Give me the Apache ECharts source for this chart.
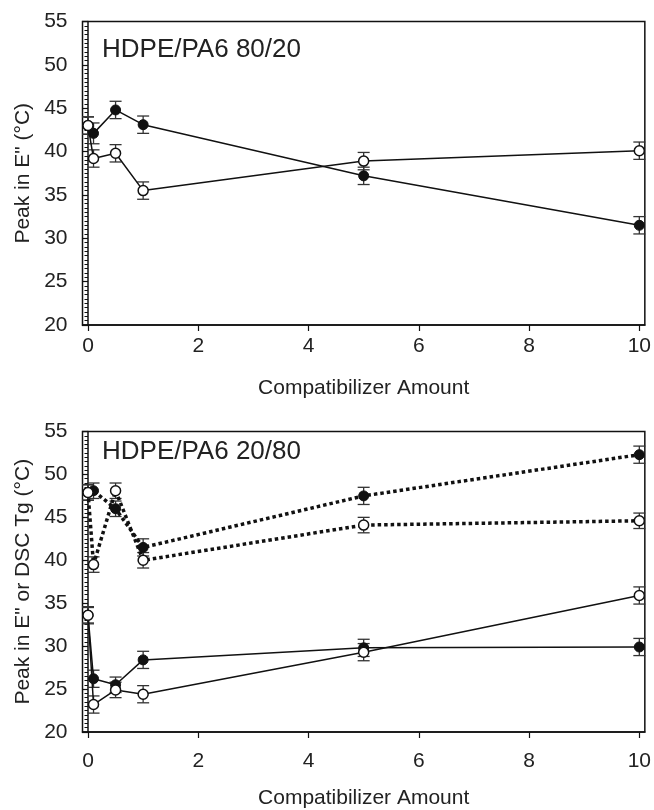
<!DOCTYPE html>
<html>
<head>
<meta charset="utf-8">
<script src="https://cdn.jsdelivr.net/npm/echarts@6/dist/echarts.min.js"></script>
<style>
  html, body { margin: 0; padding: 0; background: #fff; }
  #chart { width: 654px; height: 810px; }
</style>
</head>
<body>
<div id="chart"></div>
<script>
// compatibilizer amount (x)
const amount = [0, 0.1, 0.5, 1, 5, 10];
const xTicks = [0, 2, 4, 6, 8, 10];

// HDPE/PA6 80/20 : peak in E"
const top_filled = [43.0, 42.1, 44.8, 43.1, 37.2, 31.5];
const top_open = [43.0, 39.2, 39.8, 35.5, 38.9, 40.1];
const top_filled_err = [1.0, 1.2, 1.0, 1.0, 1.0, 1.0];
const top_open_err = [1.0, 1.0, 1.0, 1.0, 1.0, 1.0];

// HDPE/PA6 20/80 : peak in E" (solid) and DSC Tg (dotted)
const bot_filled = [33.6, 26.2, 25.5, 28.4, 29.8, 29.9];
const bot_open = [33.6, 23.2, 24.9, 24.4, 29.3, 35.9];
const bot_filled_err = [1.0, 1.0, 0.9, 1.0, 1.0, 1.0];
const bot_open_err = [0.9, 1.0, 0.9, 1.0, 1.0, 1.0];
const dsc_filled = [47.9, 48.1, 46.0, 41.5, 47.5, 52.3];
const dsc_open = [47.9, 39.5, 48.1, 40.0, 44.1, 44.6];
const dsc_filled_err = [0.9, 0.9, 0.9, 1.0, 1.0, 1.0];
const dsc_open_err = [0.9, 0.9, 0.9, 0.9, 0.9, 0.9];

const txt = "#222";
const font = "Liberation Sans";

function pairs(ys) {
  return amount.map((x, i) => [x, ys[i]]);
}

function lineSeries(idx, ys, filled, dotted) {
  return {
    type: "line",
    xAxisIndex: idx,
    yAxisIndex: idx,
    data: pairs(ys),
    symbol: "circle",
    symbolSize: 10,
    z: filled ? 3 : 4,
    lineStyle: dotted
      ? { color: "#111", width: 3.5, type: [3.5, 3] }
      : { color: "#111", width: 1.5 },
    itemStyle: filled
      ? { color: "#111", borderColor: "#111", borderWidth: 1 }
      : { color: "#fff", borderColor: "#111", borderWidth: 1.5 },
    animation: false,
  };
}

// error bars with caps, placed through the axes
function errSeries(idx, ys, errs) {
  return {
    type: "custom",
    xAxisIndex: idx,
    yAxisIndex: idx,
    z: 2,
    data: amount.map((x, i) => [x, ys[i] - errs[i], ys[i] + errs[i]]),
    encode: { x: 0, y: [1, 2] },
    renderItem: function (params, api) {
      const lo = api.coord([api.value(0), api.value(1)]);
      const hi = api.coord([api.value(0), api.value(2)]);
      const w = 6;
      const st = { stroke: "#333", lineWidth: 1.3 };
      return {
        type: "group",
        children: [
          { type: "line", shape: { x1: lo[0], y1: lo[1], x2: hi[0], y2: hi[1] }, style: st },
          { type: "line", shape: { x1: lo[0] - w, y1: lo[1], x2: lo[0] + w, y2: lo[1] }, style: st },
          { type: "line", shape: { x1: hi[0] - w, y1: hi[1], x2: hi[0] + w, y2: hi[1] }, style: st },
        ],
      };
    },
    animation: false,
  };
}

function xAxis(idx, labelMargin, nameGap) {
  return {
    type: "value",
    gridIndex: idx,
    min: -0.1,
    max: 10.1,
    name: "Compatibilizer Amount",
    nameLocation: "middle",
    nameGap: nameGap,
    nameTextStyle: { color: txt, fontSize: 21, fontFamily: font },
    axisLine: { show: true, lineStyle: { color: "#111", width: 1.5 } },
    axisTick: { show: true, inside: false, length: 6, customValues: xTicks, lineStyle: { color: "#111", width: 1.2 } },
    axisLabel: { customValues: xTicks, margin: labelMargin, color: txt, fontSize: 21, fontFamily: font },
    splitLine: { show: false },
  };
}

function yAxis(idx, name) {
  return {
    type: "value",
    gridIndex: idx,
    min: 20,
    max: 55,
    interval: 5,
    name: name,
    nameLocation: "middle",
    nameGap: 46,
    nameTextStyle: { color: txt, fontSize: 21, fontFamily: font },
    axisLine: { show: true, lineStyle: { color: "#111", width: 1.5 } },
    axisTick: { show: true, inside: false, length: 6, lineStyle: { color: "#111", width: 1.2 } },
    minorTick: { show: true, splitNumber: 10, length: 3.5, lineStyle: { color: "#111", width: 1 } },
    axisLabel: { margin: 15, color: txt, fontSize: 21, fontFamily: font },
    splitLine: { show: false },
  };
}

const chart = echarts.init(document.getElementById("chart"));
chart.setOption({
  backgroundColor: "#fff",
  animation: false,
  grid: [
    { left: 82.5, top: 21.5, width: 565.5, height: 303.5, show: true, borderColor: "#111", borderWidth: 1.5, backgroundColor: "transparent" },
    { left: 82.5, top: 431.5, width: 565.5, height: 303.5, show: true, borderColor: "#111", borderWidth: 1.5, backgroundColor: "transparent" },
  ],
  xAxis: [xAxis(0, 11, 53), xAxis(1, 19, 56)],
  yAxis: [yAxis(0, 'Peak in E" (°C)'), yAxis(1, 'Peak in E" or DSC Tg (°C)')],
  graphic: [
    { type: "text", left: 102, top: 37, style: { text: "HDPE/PA6 80/20", fill: txt, fontSize: 26, fontFamily: font } },
    { type: "text", left: 102, top: 439, style: { text: "HDPE/PA6 20/80", fill: txt, fontSize: 26, fontFamily: font } },
  ],
  series: [
    errSeries(0, top_filled, top_filled_err),
    errSeries(0, top_open, top_open_err),
    lineSeries(0, top_filled, true, false),
    lineSeries(0, top_open, false, false),

    errSeries(1, dsc_filled, dsc_filled_err),
    errSeries(1, dsc_open, dsc_open_err),
    errSeries(1, bot_filled, bot_filled_err),
    errSeries(1, bot_open, bot_open_err),
    lineSeries(1, dsc_filled, true, true),
    lineSeries(1, dsc_open, false, true),
    lineSeries(1, bot_filled, true, false),
    lineSeries(1, bot_open, false, false),
  ],
});
</script>
</body>
</html>
